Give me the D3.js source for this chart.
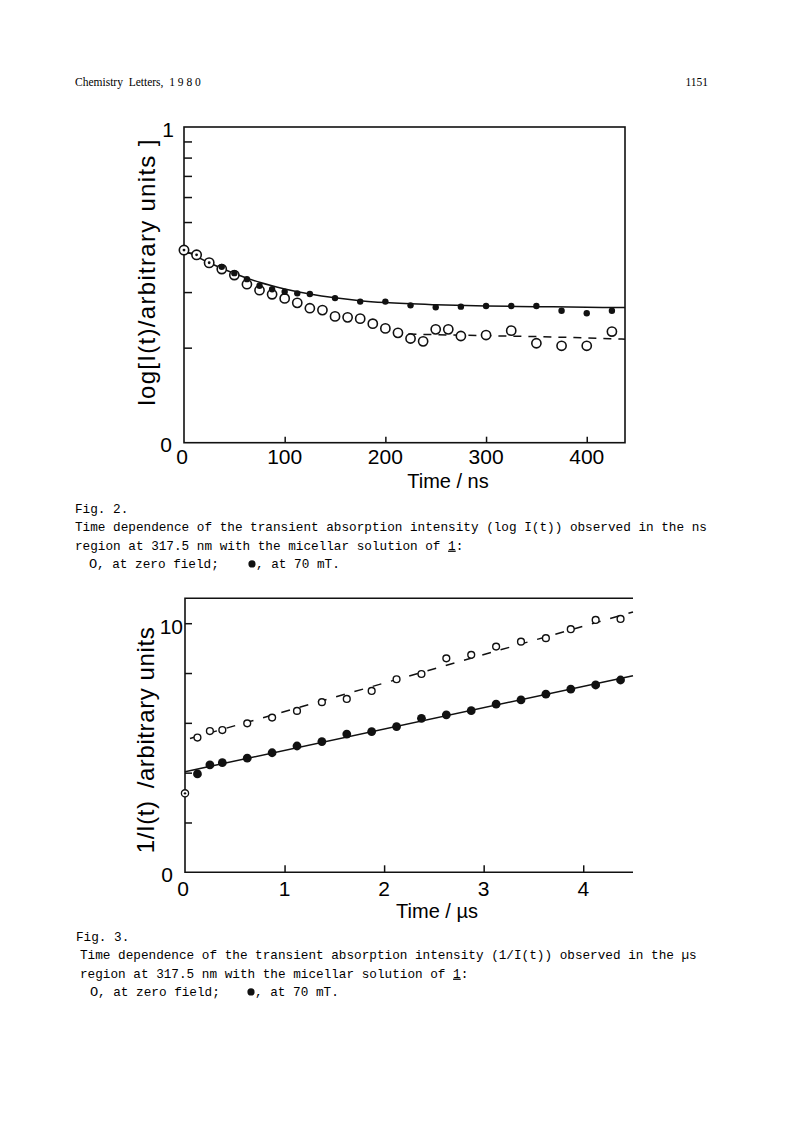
<!DOCTYPE html>
<html>
<head>
<meta charset="utf-8">
<script src="https://cdn.jsdelivr.net/npm/d3@7"></script>
<style>
  html, body { margin: 0; padding: 0; background: #fff; }
  svg { display: block; }
</style>
</head>
<body>
<script>
// ---------- Fig. 2 data (time in ns, log I) ----------
const fig2CommonT = [0, 12.5, 25];                // open and filled coincide
const fig2CommonV = [0.610, 0.595, 0.570];
const fig2OpenT = [37.5, 50, 62.5, 75, 87.5, 100, 112.5, 125, 137.5, 150, 162.5, 175, 187.5, 200, 212.5, 225, 237.5, 250, 262.5, 275, 300, 325, 350, 375, 400, 425];
const fig2OpenV = [0.550, 0.531, 0.502, 0.483, 0.470, 0.457, 0.443, 0.426, 0.420, 0.400, 0.397, 0.393, 0.377, 0.362, 0.348, 0.330, 0.321, 0.359, 0.359, 0.338, 0.341, 0.355, 0.315, 0.307, 0.307, 0.352];
const fig2FilledT = [37.5, 50, 62.5, 75, 87.5, 100, 112.5, 125, 150, 175, 200, 225, 250, 275, 300, 325, 350, 375, 400, 425];
const fig2FilledV = [0.557, 0.537, 0.518, 0.497, 0.486, 0.478, 0.473, 0.471, 0.458, 0.447, 0.447, 0.435, 0.429, 0.431, 0.433, 0.433, 0.433, 0.418, 0.410, 0.418];
const fig2SolidT = [0, 25, 50, 75, 100, 125, 150, 175, 200, 250, 300, 350, 400, 438];
const fig2SolidV = [0.610, 0.570, 0.536, 0.508, 0.487, 0.471, 0.459, 0.450, 0.444, 0.437, 0.433, 0.431, 0.429, 0.428];
const fig2DashT = [208, 250, 300, 350, 400, 438];
const fig2DashV = [0.346, 0.342, 0.339, 0.336, 0.332, 0.328];
const fig2XTicks = [0, 100, 200, 300, 400];
const fig2XTickLabels = ["0", "100", "200", "300", "400"];
const fig2YMinorTicks = [2, 3, 4, 5, 6, 7, 8, 9];   // log-scale minor ticks (I values)
const fig2YLabels = ["0", "1"];

// ---------- Fig. 3 data (time in µs, 1/I) ----------
const fig3CommonX = [0];
const fig3CommonY = [3.17];
const fig3OpenX = [0.125, 0.25, 0.375, 0.625, 0.875, 1.125, 1.375, 1.625, 1.875, 2.125, 2.375, 2.625, 2.875, 3.125, 3.375, 3.625, 3.875, 4.125, 4.375];
const fig3OpenY = [5.41, 5.67, 5.71, 5.98, 6.21, 6.48, 6.83, 6.96, 7.28, 7.75, 7.96, 8.59, 8.73, 9.06, 9.26, 9.40, 9.76, 10.13, 10.17];
const fig3FilledX = [0.125, 0.25, 0.375, 0.625, 0.875, 1.125, 1.375, 1.625, 1.875, 2.125, 2.375, 2.625, 2.875, 3.125, 3.375, 3.625, 3.875, 4.125, 4.375];
const fig3FilledY = [3.95, 4.31, 4.40, 4.58, 4.80, 5.07, 5.25, 5.55, 5.65, 5.85, 6.18, 6.32, 6.49, 6.75, 6.92, 7.15, 7.35, 7.52, 7.72];
const fig3SolidX = [0, 4.5];
const fig3SolidY = [4.04, 7.89];
const fig3DashX = [0.05, 4.5];
const fig3DashY = [5.37, 10.45];
const fig3XTicks = [0, 1, 2, 3, 4];
const fig3XTickLabels = ["0", "1", "2", "3", "4"];
const fig3YTicks = [2, 4, 6, 8, 10];

// ---------- texts ----------
const headerLeft = "Chemistry  Letters,  1 9 8 0";
const headerRight = "1151";
const fig2Caption = ["Fig. 2.",
  "Time dependence of the transient absorption intensity (log I(t)) observed in the ns",
  "region at 317.5 nm with the micellar solution of "];
const fig3Caption = ["Fig. 3.",
  "Time dependence of the transient absorption intensity (1/I(t)) observed in the \u00b5s",
  "region at 317.5 nm with the micellar solution of "];

const W = 793, H = 1123;
const svg = d3.select("body").append("svg").attr("width", W).attr("height", H);
svg.append("rect").attr("width", W).attr("height", H).attr("fill", "#fff");

const SANS = "'Liberation Sans', Arial, sans-serif";
const MONO = "'Liberation Mono', 'Courier New', monospace";
const SERIF = "'Liberation Serif', 'Times New Roman', serif";

// header
svg.append("text").attr("x", 75).attr("y", 86).attr("font-family", SERIF).attr("font-size", 11.5)
  .style("white-space", "pre").text(headerLeft);
svg.append("text").attr("x", 708).attr("y", 86).attr("text-anchor", "end").attr("font-family", SERIF)
  .attr("font-size", 11.5).text(headerRight);

// ================= Fig. 2 =================
{
  const x = d3.scaleLinear().domain([0, 438]).range([184, 625]);
  const y = d3.scaleLinear().domain([0, 1]).range([442.7, 127]);
  const g = svg.append("g");

  // frame
  g.append("rect").attr("x", x(0)).attr("y", y(1)).attr("width", x(438) - x(0)).attr("height", y(0) - y(1))
    .attr("fill", "none").attr("stroke", "#111").attr("stroke-width", 1.6);

  // inner ticks
  g.append("g").attr("transform", `translate(0,${y(0)})`)
    .call(d3.axisBottom(x).tickValues(fig2XTicks.slice(1)).tickSize(-6).tickFormat(""))
    .call(s => s.select(".domain").remove())
    .selectAll("line").attr("stroke", "#111").attr("stroke-width", 1.5);
  g.append("g").attr("transform", `translate(${x(0)},0)`)
    .call(d3.axisLeft(y).tickValues(fig2YMinorTicks.map(v => Math.log10(v))).tickSize(-8).tickFormat(""))
    .call(s => s.select(".domain").remove())
    .selectAll("line").attr("stroke", "#111").attr("stroke-width", 1.5);

  // tick labels
  g.selectAll("text.xl").data(fig2XTicks).join("text").attr("class", "xl")
    .attr("x", (d, i) => x(d) - (i === 0 ? 2 : 0)).attr("y", 464)
    .attr("text-anchor", "middle").attr("font-family", SANS).attr("font-size", 21)
    .text((d, i) => fig2XTickLabels[i]);
  g.append("text").attr("x", 166).attr("y", 452).attr("text-anchor", "middle")
    .attr("font-family", SANS).attr("font-size", 21).text(fig2YLabels[0]);
  g.append("text").attr("x", 168).attr("y", 137).attr("text-anchor", "middle")
    .attr("font-family", SANS).attr("font-size", 21).text(fig2YLabels[1]);

  // axis titles
  g.append("text").attr("x", 448).attr("y", 488).attr("text-anchor", "middle")
    .attr("font-family", SANS).attr("font-size", 20).text("Time / ns");
  g.append("text").attr("transform", "translate(155,272) rotate(-90)").attr("text-anchor", "middle")
    .attr("font-family", SANS).attr("font-size", 24).attr("letter-spacing", 1.3)
    .text("log[I(t)/arbitrary units ]");

  // lines
  const lineS = d3.line().x(d => x(d[0])).y(d => y(d[1])).curve(d3.curveMonotoneX);
  g.append("path").datum(d3.zip(fig2SolidT, fig2SolidV)).attr("d", lineS)
    .attr("fill", "none").attr("stroke", "#111").attr("stroke-width", 1.5);
  g.append("path").datum(d3.zip(fig2DashT, fig2DashV)).attr("d", lineS)
    .attr("fill", "none").attr("stroke", "#111").attr("stroke-width", 1.5).attr("stroke-dasharray", "8,7");

  // markers
  g.selectAll("circle.o").data(d3.zip(fig2OpenT, fig2OpenV)).join("circle").attr("class", "o")
    .attr("cx", d => x(d[0])).attr("cy", d => y(d[1])).attr("r", 4.6)
    .attr("fill", "#fff").attr("stroke", "#111").attr("stroke-width", 1.6);
  g.selectAll("circle.f").data(d3.zip(fig2FilledT, fig2FilledV)).join("circle").attr("class", "f")
    .attr("cx", d => x(d[0])).attr("cy", d => y(d[1])).attr("r", 3.2).attr("fill", "#111");
  const cm = g.selectAll("g.c").data(d3.zip(fig2CommonT, fig2CommonV)).join("g").attr("class", "c");
  cm.append("circle").attr("cx", d => x(d[0])).attr("cy", d => y(d[1])).attr("r", 4.7)
    .attr("fill", "#fff").attr("stroke", "#111").attr("stroke-width", 1.6);
  cm.append("circle").attr("cx", d => x(d[0])).attr("cy", d => y(d[1])).attr("r", 1.4).attr("fill", "#111");
}

// ================= Fig. 3 =================
{
  const x = d3.scaleLinear().domain([0, 4.5]).range([185, 633]);
  const y = d3.scaleLinear().domain([0, 11]).range([872.3, 598.3]);
  const g = svg.append("g");

  // frame (left, bottom, top)
  g.append("path")
    .attr("d", `M${x(4.5)},${y(11)} L${x(0)},${y(11)} L${x(0)},${y(0)} L${x(4.5)},${y(0)}`)
    .attr("fill", "none").attr("stroke", "#111").attr("stroke-width", 1.6);

  g.append("g").attr("transform", `translate(0,${y(0)})`)
    .call(d3.axisBottom(x).tickValues(fig3XTicks.slice(1)).tickSize(-7).tickFormat(""))
    .call(s => s.select(".domain").remove())
    .selectAll("line").attr("stroke", "#111").attr("stroke-width", 1.5);
  g.append("g").attr("transform", `translate(${x(0)},0)`)
    .call(d3.axisLeft(y).tickValues(fig3YTicks).tickSize(-7).tickFormat(""))
    .call(s => s.select(".domain").remove())
    .selectAll("line").attr("stroke", "#111").attr("stroke-width", 1.5);

  g.selectAll("text.xl").data(fig3XTicks).join("text").attr("class", "xl")
    .attr("x", (d, i) => x(d) - (i === 0 ? 2 : 0)).attr("y", 896)
    .attr("text-anchor", "middle").attr("font-family", SANS).attr("font-size", 21)
    .text((d, i) => fig3XTickLabels[i]);
  g.append("text").attr("x", 167).attr("y", 882).attr("text-anchor", "middle")
    .attr("font-family", SANS).attr("font-size", 21).text("0");
  g.append("text").attr("x", 183).attr("y", 634).attr("text-anchor", "end")
    .attr("font-family", SANS).attr("font-size", 21).text("10");

  g.append("text").attr("x", 437).attr("y", 918).attr("text-anchor", "middle")
    .attr("font-family", SANS).attr("font-size", 20).text("Time / \u00b5s");
  const yt = g.append("text").attr("transform", "translate(154,740) rotate(-90)").attr("text-anchor", "middle")
    .attr("font-family", SANS).attr("font-size", 24).attr("letter-spacing", 0.6);
  yt.append("tspan").text("1/I(t)");
  yt.append("tspan").attr("dx", 12).text("/arbitrary units");

  const lineL = d3.line().x(d => x(d[0])).y(d => y(d[1]));
  g.append("path").datum(d3.zip(fig3SolidX, fig3SolidY)).attr("d", lineL)
    .attr("fill", "none").attr("stroke", "#111").attr("stroke-width", 1.5);
  g.append("path").datum(d3.zip(fig3DashX, fig3DashY)).attr("d", lineL)
    .attr("fill", "none").attr("stroke", "#111").attr("stroke-width", 1.5).attr("stroke-dasharray", "9,10");

  g.selectAll("circle.o").data(d3.zip(fig3OpenX, fig3OpenY)).join("circle").attr("class", "o")
    .attr("cx", d => x(d[0])).attr("cy", d => y(d[1])).attr("r", 3.4)
    .attr("fill", "#fff").attr("stroke", "#111").attr("stroke-width", 1.4);
  g.selectAll("circle.f").data(d3.zip(fig3FilledX, fig3FilledY)).join("circle").attr("class", "f")
    .attr("cx", d => x(d[0])).attr("cy", d => y(d[1])).attr("r", 4.4).attr("fill", "#111");
  const cm = g.selectAll("g.c").data(d3.zip(fig3CommonX, fig3CommonY)).join("g").attr("class", "c");
  cm.append("circle").attr("cx", d => x(d[0])).attr("cy", d => y(d[1])).attr("r", 3.6)
    .attr("fill", "#fff").attr("stroke", "#111").attr("stroke-width", 1.3);
  cm.append("circle").attr("cx", d => x(d[0])).attr("cy", d => y(d[1])).attr("r", 1.2).attr("fill", "#111");
}

// ================= captions =================
function caption(lines, x0, x1, y0, step, oX, dotX) {
  const fs = 12.7;
  svg.append("text").attr("x", x0).attr("y", y0).attr("font-family", MONO).attr("font-size", fs).text(lines[0]);
  svg.append("text").attr("x", x1).attr("y", y0 + step).attr("font-family", MONO).attr("font-size", fs).text(lines[1]);
  const t = svg.append("text").attr("x", x1).attr("y", y0 + 2 * step).attr("font-family", MONO).attr("font-size", fs);
  t.append("tspan").text(lines[2]);
  t.append("tspan").attr("text-decoration", "underline").text("1");
  t.append("tspan").text(":");
  svg.append("text").attr("x", oX).attr("y", y0 + 3 * step).attr("font-family", MONO).attr("font-size", fs + 1)
    .text("O");
  svg.append("text").attr("x", oX + 8).attr("y", y0 + 3 * step).attr("font-family", MONO).attr("font-size", fs)
    .text(", at zero field;");
  svg.append("circle").attr("cx", dotX).attr("cy", y0 + 3 * step - 4).attr("r", 3.6).attr("fill", "#111");
  svg.append("text").attr("x", dotX + 4).attr("y", y0 + 3 * step).attr("font-family", MONO).attr("font-size", fs)
    .text(", at 70 mT.");
}
caption(fig2Caption, 75, 75, 513, 18.3, 89, 252);
caption(fig3Caption, 76, 80, 941, 18.3, 90, 251);
</script>
</body>
</html>
